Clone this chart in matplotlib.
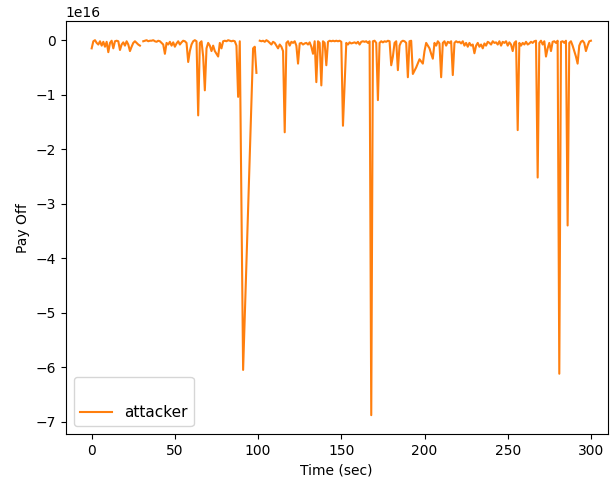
import numpy as np
import matplotlib
matplotlib.use('Agg')
import matplotlib.pyplot as plt

# sample times (sec)
time = [
    0, 1, 2, 3, 4, 5, 6, 7, 8, 9, 10, 11, 12, 13, 14, 15, 16, 17, 18, 19,
    20, 21, 22, 23, 24, 25, 26, 27, 28, 29, 30, 31, 32, 33, 34, 35, 36, 37, 38, 39,
    40, 41, 42, 43, 44, 45, 46, 47, 48, 49, 50, 51, 52, 53, 54, 55, 56, 57, 58, 59,
    60, 61, 62, 63, 64, 65, 66, 67, 68, 69, 70, 71, 72, 73, 74, 75, 76, 77, 78, 79,
    80, 81, 82, 83, 84, 85, 86, 87, 88, 89, 91, 97, 98, 99, 100,
    101, 102, 103, 104, 105, 106, 107, 108, 109, 110, 111, 112, 113, 114, 115, 116, 117, 118, 119,
    120, 121, 122, 123, 124, 125, 126, 127, 128, 129, 130, 131, 132, 133, 134, 135, 136, 137, 138, 139,
    140, 141, 142, 143, 144, 145, 146, 147, 148, 149, 150, 151, 153, 154, 155, 156, 157, 158, 159,
    160, 161, 162, 163, 164, 165, 166, 167, 168, 169, 170, 171, 172, 173, 174, 175, 176, 177, 178, 179,
    180, 181, 182, 183, 184, 185, 186, 187, 188, 189, 190, 191, 192, 193, 195, 197, 199,
    200, 201, 202, 203, 204, 205, 206, 207, 208, 209, 210, 211, 212, 213, 214, 215, 216, 217, 218, 219,
    220, 221, 222, 223, 224, 225, 226, 227, 228, 229, 230, 231, 232, 233, 234, 235, 236, 237, 238, 239,
    240, 241, 242, 243, 244, 245, 246, 247, 248, 249, 250, 251, 252, 253, 254, 255, 256, 257, 258, 259,
    260, 261, 262, 263, 264, 265, 266, 267, 268, 269, 270, 271, 272, 273, 274, 275, 276, 277, 278, 279,
    280, 281, 282, 283, 284, 285, 286, 287, 288, 289, 290, 291, 292, 293, 294, 295, 296, 297, 298, 299,
    300,
]

# attacker pay off, in units of 1e16 (nan = no value logged)
attacker = [
    -0.15, -0.02, 0.0, -0.05, -0.08, -0.02, -0.1, -0.03, -0.12, -0.03, -0.22, -0.05, -0.01, -0.15, -0.02, -0.01, -0.02, -0.18, -0.08, -0.04,
    -0.1, -0.02, -0.08, -0.2, -0.12, -0.05, -0.02, -0.05, -0.08, -0.1, np.nan, -0.02, -0.01, 0.0, -0.02, -0.01, -0.01, 0.0, -0.02, -0.03,
    -0.01, -0.02, -0.05, -0.08, -0.25, -0.05, -0.08, -0.03, -0.1, -0.04, -0.12, -0.06, -0.02, -0.08, -0.04, -0.01, -0.02, -0.05, -0.4, -0.2,
    -0.08, -0.02, 0.0, -0.02, -1.38, -0.05, -0.02, -0.3, -0.92, -0.15, -0.05, -0.1, -0.2, -0.1, -0.2, -0.25, -0.3, -0.05, -0.15, -0.02,
    -0.01, -0.02, 0.0, -0.01, -0.02, -0.01, -0.02, -0.1, -1.04, -0.02, -6.05, -0.15, -0.12, -0.6, np.nan,
    -0.01, -0.02, -0.01, -0.03, 0.0, -0.02, -0.05, -0.08, -0.03, -0.05, -0.1, -0.15, -0.08, -0.12, -0.2, -1.69, -0.05, -0.02, -0.1,
    -0.03, -0.05, -0.02, -0.1, -0.43, -0.06, -0.05, -0.08, -0.06, -0.05, -0.08, -0.04, -0.12, -0.25, -0.02, -0.77, -0.02, -0.05, -0.83, -0.02,
    -0.05, -0.46, -0.03, -0.01, -0.02, -0.01, -0.02, -0.01, -0.02, -0.01, -0.03, -1.57, -0.05, -0.08, -0.04, -0.06, -0.05, -0.04, -0.06,
    -0.03, -0.08, -0.03, -0.02, -0.03, -0.02, -0.05, -0.02, -6.88, -0.02, -0.01, -0.05, -1.1, -0.05, -0.02, -0.04, -0.02, -0.03, -0.01, -0.02,
    -0.46, -0.3, -0.05, -0.02, -0.55, -0.1, -0.03, -0.01, -0.02, -0.05, -0.68, -0.02, -0.01, -0.62, -0.5, -0.35, -0.43,
    -0.2, -0.05, -0.1, -0.15, -0.25, -0.34, -0.05, -0.1, -0.02, -0.06, -0.68, -0.05, -0.02, -0.1, -0.03, -0.05, -0.02, -0.64, -0.05, -0.02,
    -0.04, -0.03, -0.06, -0.02, -0.1, -0.05, -0.12, -0.05, -0.1, -0.08, -0.24, -0.1, -0.05, -0.12, -0.08, -0.15, -0.06, -0.1, -0.03, -0.05,
    -0.08, -0.02, -0.05, -0.04, -0.08, -0.02, -0.1, -0.03, -0.05, -0.02, -0.1, -0.04, -0.08, -0.2, -0.05, -0.02, -1.65, -0.05, -0.1, -0.05,
    -0.08, -0.03, -0.08, -0.06, -0.03, -0.05, -0.02, -0.01, -2.52, -0.05, -0.01, -0.08, -0.02, -0.3, -0.15, -0.05, -0.2, -0.03, -0.02, -0.05,
    -0.01, -6.12, -0.03, -0.02, -0.05, -0.01, -3.4, -0.05, -0.02, -0.1, -0.2, -0.3, -0.43, -0.1, -0.03, -0.01, -0.05, -0.2, -0.1, -0.02,
    -0.01,
]

payoff = np.array(attacker) * 1e16

fig = plt.figure(figsize=(6.1, 4.87), dpi=100)
ax = fig.add_subplot(111)
fig.subplots_adjust(left=0.108, right=0.996, bottom=0.109, top=0.956)

ax.plot(time, payoff, color='#ff7f0e', label='attacker')
ax.set_xlim(-15.5, 310)

ax.set_xlabel('Time (sec)')
ax.set_ylabel('Pay Off')
ax.legend(loc='lower left', title=' ', fontsize=11, handlelength=2.1)

plt.savefig('out.png')
